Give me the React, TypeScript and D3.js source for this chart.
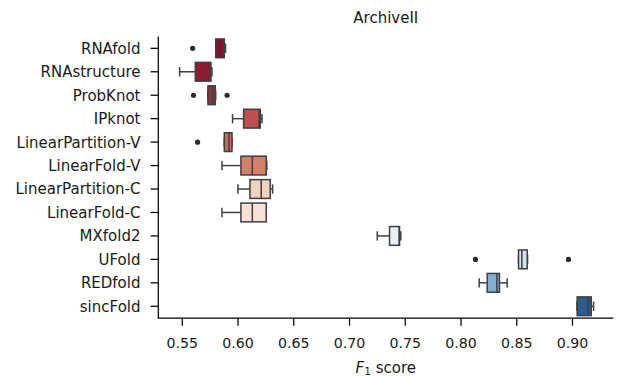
import React from "react";
import * as d3 from "d3";

const methods = [
  "RNAfold", "RNAstructure", "ProbKnot", "IPknot", "LinearPartition-V", "LinearFold-V",
  "LinearPartition-C", "LinearFold-C", "MXfold2", "UFold", "REDfold", "sincFold",
];
const whiskerLow = [0.5800, 0.5476, 0.5730, 0.5951, 0.5877, 0.5856, 0.5999, 0.5856, 0.7249, 0.8516, 0.8163, 0.9040];
const q1 =         [0.5800, 0.5617, 0.5730, 0.6050, 0.5877, 0.6026, 0.6107, 0.6026, 0.7359, 0.8516, 0.8235, 0.9042];
const medians =    [0.5874, 0.5750, 0.5772, 0.6190, 0.5919, 0.6128, 0.6208, 0.6128, 0.7445, 0.8546, 0.8322, 0.9140];
const q3 =         [0.5877, 0.5757, 0.5796, 0.6200, 0.5946, 0.6253, 0.6289, 0.6253, 0.7449, 0.8594, 0.8345, 0.9168];
const whiskerHigh =[0.5888, 0.5766, 0.5800, 0.6215, 0.5946, 0.6258, 0.6310, 0.6253, 0.7460, 0.8597, 0.8414, 0.9189];
const outliers: number[][] = [[0.5593], [], [0.5601, 0.5902], [], [0.5637], [], [], [], [], [0.8130, 0.8964], [], []];
const fills = [
  "#7c1430", "#8d1c34", "#a2293b", "#c04e4e", "#cc6957", "#d47e6b",
  "#f2d1be", "#f5e1d6", "#e9eff4", "#d0e3ef", "#7fb0d1", "#2a5c92",
];
const xTicks = [0.55, 0.6, 0.65, 0.7, 0.75, 0.8, 0.85, 0.9];
const title = "ArchiveII";

const W = 624, H = 376;
const left = 158.3, right = 613.3, top = 36.6, bottom = 318;
const FONT = "DejaVu Sans, sans-serif";
const FS = 14.2;
const FL = 15;
const EDGE = "#3f3f3f";

export default function App() {
  const x = d3.scaleLinear().domain([0.5285, 0.9366]).range([left, right]);
  const y = d3.scaleBand<string>().domain(methods).range([top, bottom]).padding(0);
  const bw = y.bandwidth() * 0.8;
  return (
    <svg width={W} height={H} style={{ position: "absolute", left: 0, top: 0, background: "#fff" }}
      fontFamily={FONT}>
      {methods.map((m, i) => {
        const cy = (y(m) as number) + y.bandwidth() / 2;
        const cap = bw / 2;
        return (
          <g key={m}>
            <line x1={x(whiskerLow[i])} x2={x(q1[i])} y1={cy} y2={cy} stroke={EDGE} strokeWidth={1.5} />
            <line x1={x(q3[i])} x2={x(whiskerHigh[i])} y1={cy} y2={cy} stroke={EDGE} strokeWidth={1.5} />
            <line x1={x(whiskerLow[i])} x2={x(whiskerLow[i])} y1={cy - cap / 2} y2={cy + cap / 2} stroke={EDGE} strokeWidth={1.5} />
            <line x1={x(whiskerHigh[i])} x2={x(whiskerHigh[i])} y1={cy - cap / 2} y2={cy + cap / 2} stroke={EDGE} strokeWidth={1.5} />
            <rect x={x(q1[i])} y={cy - bw / 2} width={x(q3[i]) - x(q1[i])} height={bw}
              fill={fills[i]} stroke={EDGE} strokeWidth={1.5} />
            <line x1={x(medians[i])} x2={x(medians[i])} y1={cy - bw / 2} y2={cy + bw / 2} stroke={EDGE} strokeWidth={1.5} />
            {outliers[i].map((v, j) => (
              <circle key={j} cx={x(v)} cy={cy} r={2.6} fill="#2b2b2b" />
            ))}
          </g>
        );
      })}
      <line x1={left} x2={left} y1={top} y2={bottom} stroke="#000" strokeWidth={1.25} />
      <line x1={left - 0.6} x2={right} y1={bottom} y2={bottom} stroke="#000" strokeWidth={1.25} />
      {methods.map((m) => {
        const cy = (y(m) as number) + y.bandwidth() / 2;
        return (
          <g key={"yt" + m}>
            <line x1={left - 7.7} x2={left} y1={cy} y2={cy} stroke="#000" strokeWidth={1.25} />
            <text x={left - 17.8} y={cy} dy="0.36em" textAnchor="end" fontSize={FL} fill="#1a1a1a">{m}</text>
          </g>
        );
      })}
      {xTicks.map((t) => (
        <g key={"xt" + t}>
          <line x1={x(t)} x2={x(t)} y1={bottom} y2={bottom + 7.7} stroke="#000" strokeWidth={1.25} />
          <text x={x(t)} y={348.2} textAnchor="middle" fontSize={FS} fill="#1a1a1a">{d3.format(".2f")(t)}</text>
        </g>
      ))}
      <text x={(left + right) / 2} y={372.5} textAnchor="middle" fontSize={FL} fill="#1a1a1a">
        <tspan fontStyle="italic">F</tspan>
        <tspan fontSize={FL * 0.7} dy={2.7}>1</tspan>
        <tspan dy={-2.7}> score</tspan>
      </text>
      <text x={(left + right) / 2} y={22.6} textAnchor="middle" fontSize={FL} fill="#1a1a1a">{title}</text>
    </svg>
  );
}
